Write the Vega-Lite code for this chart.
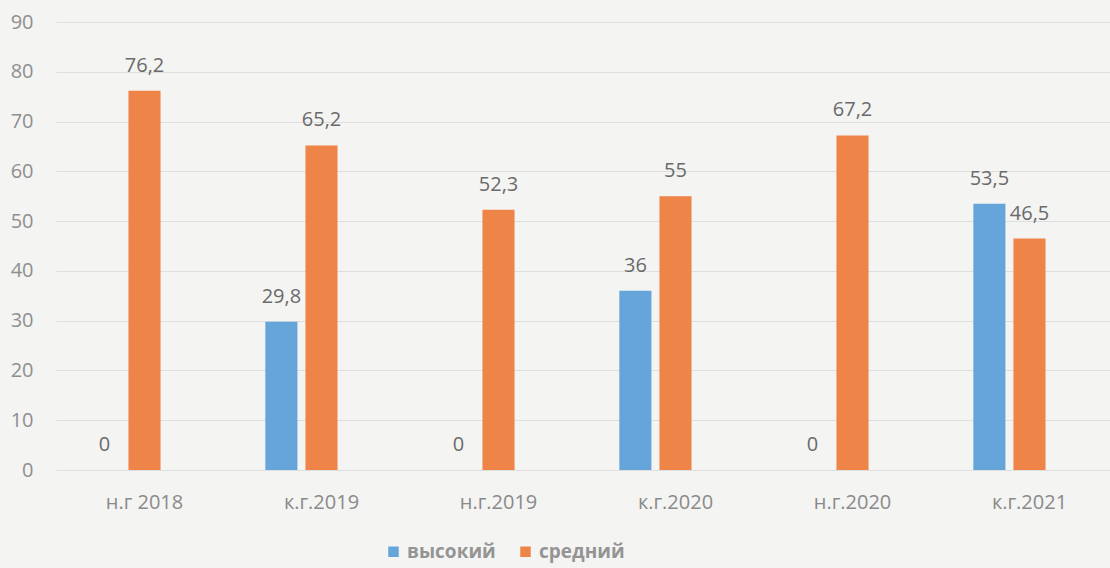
{
  "$schema": "https://vega.github.io/schema/vega-lite/v6.json",
  "autosize": {"type": "none"},
  "padding": {"left": 56, "top": 22, "right": 0, "bottom": 98},
  "width": 1062,
  "height": 448,
  "background": "#f4f4f3",
  "config": {
    "view": {"stroke": null},
    "locale": {"number": {"decimal": ",", "thousands": " ", "grouping": [3], "currency": ["", ""]}}
  },
  "data": {
    "values": [
      {"period": "н.г 2018", "level": "высокий", "value": 0},
      {"period": "н.г 2018", "level": "средний", "value": 76.2},
      {"period": "к.г.2019", "level": "высокий", "value": 29.8},
      {"period": "к.г.2019", "level": "средний", "value": 65.2},
      {"period": "н.г.2019", "level": "высокий", "value": 0},
      {"period": "н.г.2019", "level": "средний", "value": 52.3},
      {"period": "к.г.2020", "level": "высокий", "value": 36},
      {"period": "к.г.2020", "level": "средний", "value": 55},
      {"period": "н.г.2020", "level": "высокий", "value": 0},
      {"period": "н.г.2020", "level": "средний", "value": 67.2},
      {"period": "к.г.2021", "level": "высокий", "value": 53.5},
      {"period": "к.г.2021", "level": "средний", "value": 46.5}
    ]
  },
  "encoding": {
    "x": {
      "field": "period", "type": "nominal", "sort": null,
      "scale": {"paddingInner": 0.32, "paddingOuter": 0.16},
      "axis": {
        "title": null, "labelAngle": 0, "domain": false, "ticks": false,
        "labelFont": "Open Sans", "labelFontSize": 20, "labelColor": "#8a8a8a",
        "labelPadding": 22
      }
    },
    "xOffset": {
      "field": "level", "type": "nominal",
      "scale": {"domain": ["высокий", "средний", "пусто"], "paddingInner": 0.2, "paddingOuter": 0.1}
    },
    "y": {
      "field": "value", "type": "quantitative",
      "scale": {"domain": [0, 90], "nice": false},
      "axis": {
        "title": null, "values": [0, 10, 20, 30, 40, 50, 60, 70, 80, 90],
        "domain": false, "ticks": false, "labelPadding": 23,
        "labelFont": "Open Sans", "labelFontSize": 20, "labelColor": "#8f8f8f",
        "gridColor": "#dedede", "gridWidth": 1
      }
    }
  },
  "layer": [
    {
      "mark": {"type": "bar"},
      "encoding": {
        "color": {
          "field": "level", "type": "nominal",
          "scale": {"domain": ["высокий", "средний"], "range": ["#66a5d9", "#ee8448"]},
          "legend": {
            "title": null, "orient": "none", "direction": "horizontal",
            "legendX": 328, "legendY": 520,
            "symbolType": "square", "symbolSize": 110, "symbolStrokeWidth": 0,
            "columnPadding": 20,
            "labelFont": "Open Sans", "labelFontSize": 19, "labelFontWeight": "bold",
            "labelColor": "#949494"
          }
        }
      }
    },
    {
      "mark": {"type": "text", "baseline": "bottom", "dy": -15, "font": "Open Sans", "fontSize": 20, "color": "#6a6a6a"},
      "encoding": {
        "text": {"field": "value", "type": "quantitative", "format": ".1~f"}
      }
    }
  ]
}
